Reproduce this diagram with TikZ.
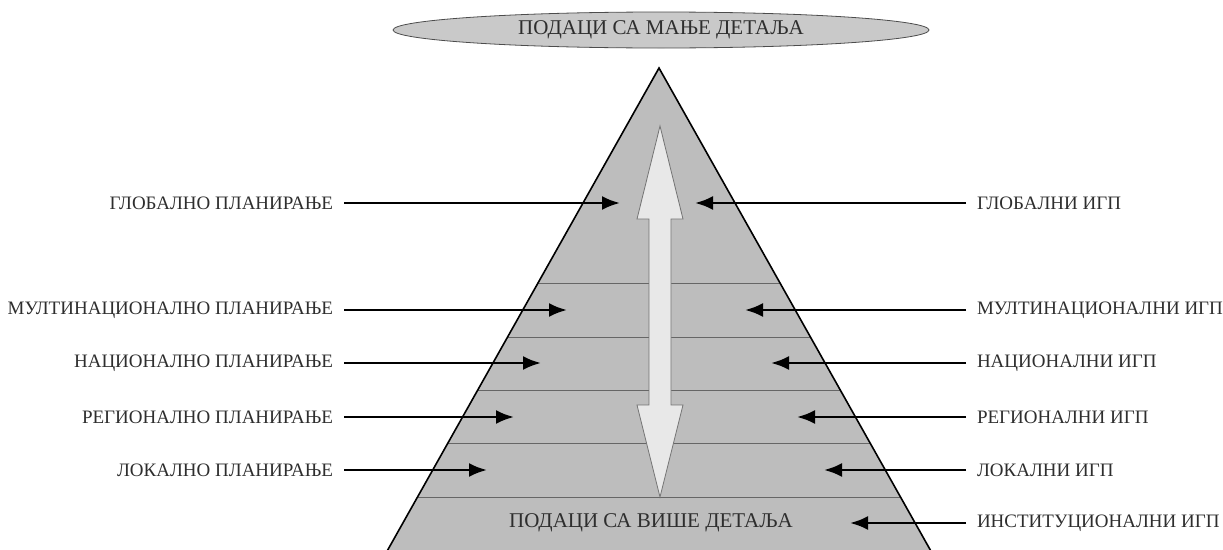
\documentclass[tikz,border=0pt]{standalone}
\usepackage{fontspec}
\setmainfont{Liberation Serif}
\usetikzlibrary{arrows.meta,positioning,shapes.geometric}
\definecolor{pyr}{HTML}{BDBDBD}
\definecolor{ell}{HTML}{C9C9C9}
\definecolor{dbl}{HTML}{E8E8E8}
\definecolor{txt}{HTML}{2E2E2E}
\begin{document}
\begin{tikzpicture}[
    x=1pt, y=-1pt,
    font=\fontsize{19}{22}\selectfont,
    >=Latex,
    lbl/.style={text=txt, inner sep=0pt, outer xsep=11pt},
    big/.style={font=\fontsize{21}{24}\selectfont, text=txt},
    arr/.style={->, line width=2.6pt, black, >={Latex[length=18pt,width=14pt]}},
    tier/.style={draw=black!60, line width=0.8pt}
  ]
    \useasboundingbox (0,0) rectangle (1223,549);
    % pyramid
    \coordinate (apex) at (659,68);
    \coordinate (bl) at (386,553);
    \coordinate (br) at (932,553);
    \fill[pyr] (apex) -- (bl) -- (br) -- cycle;
    \begin{scope}
      \clip (apex) -- (bl) -- (br) -- cycle;
      \foreach \y in {283,337,390,443,497}
        \draw[tier] (300,\y) -- (1000,\y);
    \end{scope}
    \draw[line width=1.6pt] (bl) -- (apex) -- (br);
    % up/down arrow
    \draw[fill=dbl, draw=black!55, line width=0.8pt]
      (660,126) -- (683,219) -- (671,219) -- (671,405) -- (683,405) -- (660,497)
      -- (637,405) -- (649,405) -- (649,219) -- (637,219) -- cycle;
    % top and bottom
    \node[ellipse, draw=black!70, fill=ell, line width=0.8pt, minimum width=536pt,
      minimum height=36pt, inner sep=0pt, big] (top) at (661,30) {ПОДАЦИ СА МАЊЕ ДЕТАЉА};
    \node[big] (bot) at (651,523) {ПОДАЦИ СА ВИШЕ ДЕТАЉА};
    % planning side
    \node[lbl, anchor=east] (pg) at (344,203) {ГЛОБАЛНО ПЛАНИРАЊЕ};
    \node[lbl, anchor=east] (pm) at (344,310) {МУЛТИНАЦИОНАЛНО ПЛАНИРАЊЕ};
    \node[lbl, anchor=east] (pn) at (344,363) {НАЦИОНАЛНО ПЛАНИРАЊЕ};
    \node[lbl, anchor=east] (pr) at (344,417) {РЕГИОНАЛНО ПЛАНИРАЊЕ};
    \node[lbl, anchor=east] (pl) at (344,470) {ЛОКАЛНО ПЛАНИРАЊЕ};
    \coordinate (pgT) at (620,203);
    \coordinate (pmT) at (567,310);
    \coordinate (pnT) at (541,363);
    \coordinate (prT) at (514,417);
    \coordinate (plT) at (487,470);
    % sdi side
    \node[lbl, anchor=west] (ig) at (966,203) {ГЛОБАЛНИ ИГП};
    \node[lbl, anchor=west] (im) at (966,310) {МУЛТИНАЦИОНАЛНИ ИГП};
    \node[lbl, anchor=west] (in) at (966,363) {НАЦИОНАЛНИ ИГП};
    \node[lbl, anchor=west] (ir) at (966,417) {РЕГИОНАЛНИ ИГП};
    \node[lbl, anchor=west] (il) at (966,470) {ЛОКАЛНИ ИГП};
    \node[lbl, anchor=west] (ii) at (966,523) {ИНСТИТУЦИОНАЛНИ ИГП};
    \coordinate (igT) at (695,203);
    \coordinate (imT) at (745,310);
    \coordinate (inT) at (771,363);
    \coordinate (irT) at (797,417);
    \coordinate (ilT) at (824,470);
    \coordinate (iiT) at (850,523);
    \foreach \a in {g,m,n,r,l}
      \draw[arr] (p\a) -- (p\a T);
    \foreach \a in {g,m,n,r,l,i}
      \draw[arr] (i\a) -- (i\a T);
  \end{tikzpicture}
\end{document}
